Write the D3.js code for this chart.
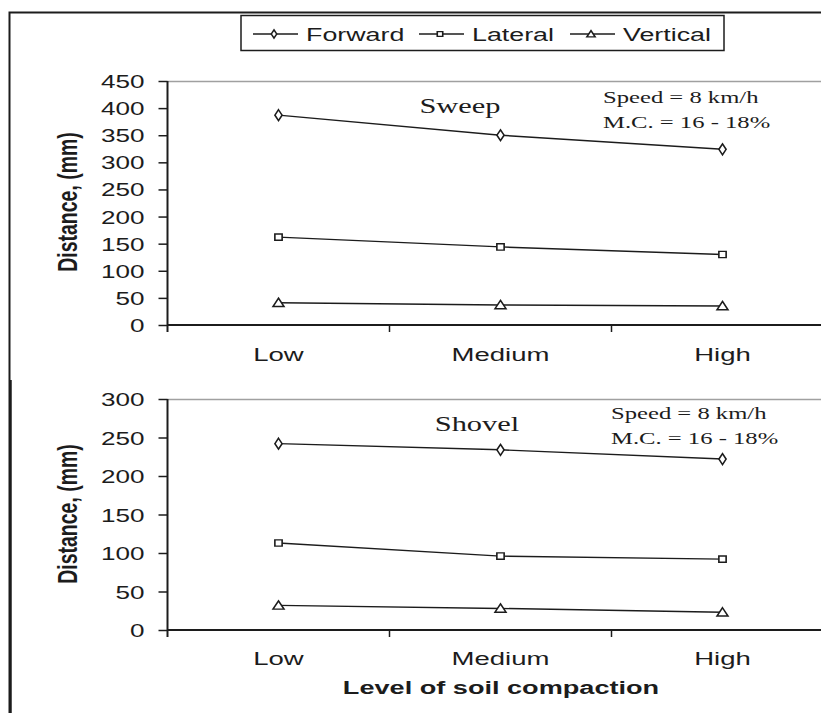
<!DOCTYPE html>
<html><head><meta charset="utf-8">
<script src="https://cdn.jsdelivr.net/npm/d3@7"></script>
<style>
html,body{margin:0;padding:0;background:#fff;}
svg{display:block;}
</style></head>
<body>
<script>
// ---- data ----
const categories = ["Low", "Medium", "High"];
const seriesNames = ["Forward", "Lateral", "Vertical"];
const sweepForward = [387, 350, 324];
const sweepLateral = [162, 144, 130];
const sweepVertical = [41, 37, 35];
const shovelForward = [242, 234, 222];
const shovelLateral = [113, 96, 92];
const shovelVertical = [32, 28, 23];
const sweepTicks = [0, 50, 100, 150, 200, 250, 300, 350, 400, 450];
const shovelTicks = [0, 50, 100, 150, 200, 250, 300];
const noteLines = ["Speed = 8 km/h", "M.C. = 16 - 18%"];
const xTitle = "Level of soil compaction";
const yTitle = "Distance, (mm)";

// ---- layout ----
const W = 821, H = 713, SX = 1.45;
const ink = "#1c1c1c";
const sans = "Liberation Sans, Arial, sans-serif";
const serif = "Liberation Serif, Times New Roman, serif";

const svg = d3.select("body").append("svg").attr("width", W).attr("height", H);

// outer frame
svg.append("rect").attr("x", 9.5).attr("y", 12.5).attr("width", 840).attr("height", 740)
  .attr("fill", "none").attr("stroke", ink).attr("stroke-width", 2);
svg.append("line").attr("x1", 10.5).attr("x2", 10.5).attr("y1", 380).attr("y2", H + 10)
  .attr("stroke", ink).attr("stroke-width", 2.5);

function stext(g, str, x, y, opts) {
  const t = g.append("text")
    .attr("transform", `translate(${x},${y}) scale(${SX},1)` + (opts.rotate ? ` rotate(${opts.rotate})` : ""))
    .attr("text-anchor", opts.anchor || "start")
    .attr("font-family", opts.family || sans)
    .attr("font-size", opts.size)
    .attr("font-weight", opts.weight || "normal")
    .attr("fill", ink)
    .text(str);
  return t;
}

const symbols = [d3.symbolDiamond, d3.symbolSquare, d3.symbolTriangle];
const symSizes = [34, 40, 40];

function marker(g, i, x, y, k) {
  k = k || 1;
  g.append("path")
    .attr("d", d3.symbol().type(symbols[i]).size(symSizes[i] * k * k)())
    .attr("transform", `translate(${x},${y + (i === 2 ? 1 : 0) * k}) scale(1.15,1)`)
    .attr("fill", "#fff").attr("stroke", ink).attr("stroke-width", 1.4);
}

const x = d3.scaleBand().domain(categories).range([167.5, 833.5]);

function panel(cfg) {
  const g = svg.append("g");
  const y = d3.scaleLinear().domain([0, cfg.max]).range([cfg.y0, cfg.y1]);
  const xl = x.range()[0];
  // plot area top border
  g.append("line").attr("x1", xl).attr("x2", W + 20).attr("y1", cfg.y1 + 0.5).attr("y2", cfg.y1 + 0.5)
    .attr("stroke", "#a0a0a0").attr("stroke-width", 1.5);
  // y axis
  const ya = d3.axisLeft(y).tickValues(cfg.ticks).tickSize(9).tickSizeOuter(0).tickPadding(0);
  const yg = g.append("g").attr("transform", `translate(${xl},0)`).call(ya);
  yg.select(".domain").remove();
  yg.selectAll(".tick line").attr("stroke", ink).attr("stroke-width", 1.5);
  yg.selectAll(".tick text")
    .attr("x", 0).attr("dy", null)
    .attr("transform", `translate(-23,6.5) scale(${SX},1)`)
    .attr("font-family", sans).attr("font-size", 18).attr("fill", ink).attr("text-anchor", "end");
  g.append("line").attr("x1", xl).attr("x2", xl).attr("y1", cfg.y1).attr("y2", cfg.y0 + 7)
    .attr("stroke", ink).attr("stroke-width", 2);
  // x axis
  g.append("line").attr("x1", xl).attr("x2", W + 20).attr("y1", cfg.y0).attr("y2", cfg.y0)
    .attr("stroke", ink).attr("stroke-width", 2);
  const bounds = categories.map(c => x(c)).concat([x.range()[1]]);
  g.selectAll(".xt").data(bounds.slice(1)).enter().append("line")
    .attr("x1", d => d).attr("x2", d => d).attr("y1", cfg.y0).attr("y2", cfg.y0 + 7)
    .attr("stroke", ink).attr("stroke-width", 1.5);
  categories.forEach(c => stext(g, c, x(c) + x.bandwidth() / 2, cfg.catY, {size: 19, anchor: "middle"}));
  // y title
  stext(g, yTitle, 77, cfg.yTitleC, {size: 19.5, weight: "bold", anchor: "middle", rotate: -90});
  // series
  const line = d3.line().x((d, i) => x(categories[i]) + x.bandwidth() / 2).y(d => y(d));
  cfg.series.forEach((s, si) => {
    g.append("path").attr("d", line(s)).attr("fill", "none").attr("stroke", ink).attr("stroke-width", 1.4);
    s.forEach((v, i) => marker(g, si, x(categories[i]) + x.bandwidth() / 2, y(v)));
  });
  // labels
  stext(g, cfg.name, cfg.nameX, cfg.nameY, {size: 21, family: serif, anchor: "middle"});
  noteLines.forEach((t, i) => stext(g, t, cfg.noteX, cfg.noteY + i * 25, {size: 17, family: serif}));
}

panel({max: 450, ticks: sweepTicks, y0: 325, y1: 81, catY: 361, yTitleC: 202,
  series: [sweepForward, sweepLateral, sweepVertical],
  name: "Sweep", nameX: 460, nameY: 113, noteX: 603, noteY: 103});
panel({max: 300, ticks: shovelTicks, y0: 630, y1: 399, catY: 665, yTitleC: 514,
  series: [shovelForward, shovelLateral, shovelVertical],
  name: "Shovel", nameX: 477, nameY: 431, noteX: 611, noteY: 419});

stext(svg, xTitle, 501, 694, {size: 18.7, weight: "bold", anchor: "middle"});

// legend
const lg = svg.append("g");
lg.append("rect").attr("x", 241).attr("y", 15.5).attr("width", 483).attr("height", 35)
  .attr("fill", "#fff").attr("stroke", ink).attr("stroke-width", 1.5);
const legX = [253, 419, 570];
seriesNames.forEach((n, i) => {
  lg.append("line").attr("x1", legX[i]).attr("x2", legX[i] + 45).attr("y1", 34).attr("y2", 34)
    .attr("stroke", ink).attr("stroke-width", 1.4);
  marker(lg, i, legX[i] + 21, 34, 0.75);
  stext(lg, n, legX[i] + 53, 41, {size: 18.5});
});
</script>
</body></html>
